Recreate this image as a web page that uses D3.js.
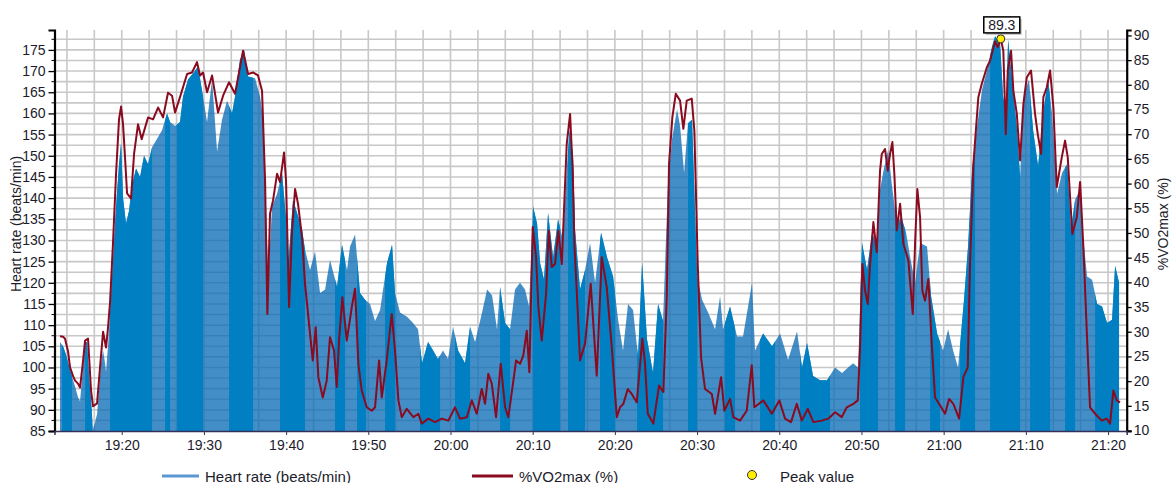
<!DOCTYPE html>
<html>
<head>
<meta charset="utf-8">
<script src="https://d3js.org/d3.v7.min.js"></script>
<style>
  body { margin: 0; background: #fff; }
  text { font-family: "Liberation Sans", Arial, sans-serif; fill: #1c1c2c; }
</style>
</head>
<body>
<div id="chart"></div>
<script>

// readings, time given as minutes after 19:00
var hrMinutes = [
  12.49,12.86,13.22,13.71,14.08,14.32,14.68,14.93,15.29,15.54,
  15.78,16.02,16.27,16.51,16.75,17.00,17.24,17.48,17.73,17.97,
  18.09,18.33,18.58,18.94,19.31,19.67,19.92,20.16,20.52,20.89,
  21.25,21.74,22.23,22.71,23.20,23.69,24.30,24.90,25.51,25.88,
  26.49,27.09,27.46,28.07,28.68,29.28,29.89,30.38,30.99,31.60,
  32.20,32.81,33.42,33.79,34.39,34.88,35.37,36.22,36.83,37.19,
  37.56,37.84,38.29,38.90,39.50,39.99,40.27,40.84,41.45,41.94,
  42.30,42.91,43.52,44.13,44.74,45.34,46.20,46.80,47.41,47.78,
  48.39,48.99,49.60,50.21,50.82,51.43,52.28,52.89,53.25,53.86,
  54.71,55.44,56.05,56.54,57.27,57.88,58.48,59.09,59.70,60.31,
  60.92,61.77,62.38,62.99,63.84,64.45,65.06,65.66,66.03,66.64,
  67.25,67.85,68.46,69.07,69.56,70.04,70.53,70.90,71.38,71.87,
  72.48,73.09,73.69,74.18,74.48,74.91,75.15,75.76,76.37,76.98,
  77.59,78.32,79.05,79.78,80.39,80.99,81.60,82.21,82.82,83.31,
  83.91,84.64,85.25,85.86,86.47,86.96,87.56,87.93,88.42,88.90,
  89.39,90.00,90.61,91.34,92.19,92.80,93.16,94.01,94.86,95.59,
  96.69,97.05,98.03,99.12,100.10,101.07,102.16,102.77,103.38,104.11,
  104.96,105.81,106.79,107.64,108.37,108.98,109.59,110.07,110.68,111.29,
  111.90,112.26,112.63,113.24,113.72,114.33,114.82,115.43,115.91,116.52,
  117.13,117.98,118.47,119.20,119.93,120.54,121.15,121.75,122.48,122.97,
  123.46,124.07,124.67,125.28,125.89,126.26,126.86,127.23,127.59,127.84,
  128.32,128.93,129.30,129.78,130.39,130.88,131.49,132.10,132.70,133.19,
  133.80,134.41,135.02,135.50,135.99,136.60,136.96,137.45,138.06,138.67,
  139.27,139.88,140.49,140.86,141.34
];
var hrValues = [
  106,105,103,99.5,97,95.5,93,92,100,106,
  106,98,92,85.5,87,89,95,101,104,101,
  99,105,113,125,138,148,153,140,134,137,
  143,147,145,150,148,152,154,156,160,158,
  157,158,164,168,169.5,171,164,158,168,151,
  158.5,163,160,164,172.7,175,168.7,168.3,164,159,
  136,121.5,138,141,146,135,124.7,139.6,135.7,132.5,
  127.8,123,127.4,117.6,118.4,125.4,119,129,123,128.6,
  131.4,117.6,116,115,111,113.6,124.7,129,117.6,113,
  112,110.5,109,101,106,104,102,104,102,109.7,
  104,101,109.7,106,113,118.4,117,109,119,110.5,
  109,118.4,120,118.4,114.4,138,134,124.7,120.7,136.5,
  126,135,130,148,156,150,132.5,118.4,123,129.4,
  120,131.8,126,121.5,111.3,104,115,113.6,102.6,124.7,
  106.6,98.7,115,111,144,154,161,157,146,157.7,
  158.5,121.5,116,113,109,116.8,109,114.4,107.3,107.3,
  120,104,108,105,108,101.8,108.5,100,105.8,98,
  97,97,100,98.7,100,101,100,129.4,123,131.8,
  128.6,142,146,151.4,142.8,133.3,135.7,131.8,126.2,120,
  129.4,128.6,116.8,108,104,109,104,100,116,128.6,
  146.7,157,165.6,170.3,175.8,178.2,176.6,164,160,177.4,
  168,156,145,164.8,168,156,147.5,160,168,160,
  141,146,148,132.5,139.6,142,131,121.5,120.7,115,
  114.4,110.5,111.3,124,120
];

var vo2Minutes = [
  12.49,12.86,13.10,13.47,13.71,14.08,14.32,14.68,14.93,15.29,
  15.54,15.90,16.27,16.51,17.00,17.36,17.73,18.09,18.33,18.58,
  18.94,19.31,19.67,19.92,20.16,20.40,20.65,21.13,21.50,21.98,
  22.43,23.20,23.81,24.42,25.03,25.63,26.12,26.49,27.09,27.95,
  28.55,29.16,29.53,29.89,30.38,30.99,31.72,32.33,33.05,33.79,
  34.76,35.37,35.98,36.58,37.07,37.44,37.72,38.04,38.41,38.90,
  39.26,39.75,39.99,40.36,40.72,41.09,41.45,41.94,42.30,42.91,
  43.24,43.60,43.92,44.46,44.94,45.34,45.83,46.16,46.44,46.84,
  47.38,47.99,48.39,48.79,49.20,49.81,50.42,50.82,51.31,51.64,
  52.24,52.85,53.25,53.66,54.07,54.68,55.48,56.09,56.50,57.30,
  58.12,58.93,59.74,60.55,61.16,61.98,62.59,63.19,63.80,64.20,
  64.60,65.02,65.54,66.11,66.64,67.04,67.65,67.98,68.46,68.86,
  69.28,69.59,70.01,70.41,70.69,71.10,71.63,71.95,72.32,72.72,
  73.12,73.54,74.14,74.55,74.87,75.07,75.36,75.76,76.37,77.06,
  77.79,78.40,79.01,79.62,80.23,80.63,81.03,81.57,82.05,82.66,
  83.34,83.67,84.00,84.68,85.37,85.90,86.31,86.59,86.99,87.41,
  87.93,88.33,88.74,89.35,89.67,90.08,90.48,90.97,91.79,92.19,
  92.92,93.32,94.01,94.41,95.23,96.04,96.65,96.97,98.06,99.09,
  100.01,100.70,101.43,102.13,102.74,103.47,104.15,105.17,105.97,106.79,
  107.60,108.21,109.01,109.55,109.83,110.11,110.44,110.77,111.05,111.45,
  111.86,112.26,112.47,112.87,113.20,113.48,113.76,114.00,114.30,114.70,
  115.10,115.71,116.24,116.52,116.80,117.13,117.41,117.74,118.14,118.55,
  118.95,119.56,120.17,120.66,121.18,121.88,122.40,122.93,123.21,123.62,
  124.22,124.64,125.25,125.65,126.26,126.58,126.95,127.26,127.56,127.80,
  128.20,128.48,128.90,129.30,129.70,130.11,130.63,131.12,131.45,131.85,
  132.13,132.55,132.95,133.35,133.76,134.37,134.77,135.10,135.38,135.66,
  136.20,136.60,137.00,137.41,137.81,138.42,139.24,139.84,140.25,140.65,
  141.06,141.46
];
var vo2Values = [
  29.1,29,28.6,26,22.8,21,20.1,19.5,18.7,24,
  28.2,28.6,18,14.9,15.5,22.8,30,26.8,30.8,36,
  48,62,73,75.6,72,65.3,58,57,66,72,
  69,73.4,73,75.4,73.4,78.4,77.8,74.4,77.5,82.2,
  82.5,84.6,81.9,82.5,78.5,81.9,74.4,77.8,80.5,78.2,
  86.9,82.2,82.5,81.9,78.8,60.6,33.6,53.9,56.6,62,
  60.3,66.3,60.6,35,50.5,58.9,55.9,49.1,39.7,29.6,
  24.2,30.9,20.8,16.7,20.1,28.9,26.2,18.8,28.2,37,
  28.2,35,38.7,23.5,18.1,14.7,14,14.7,24.2,16.7,
  24.2,33.6,26.2,16.1,12.7,14.4,12.7,13.4,11.4,12.4,
  11.7,12.4,12,14.7,12.4,12.7,16.1,13.4,18.4,15.4,
  21.5,19.5,12.7,23.5,14.7,12.7,20.1,24.2,23.5,25.2,
  30.2,21.8,51.2,45.1,35,28.2,37.7,50.5,43.1,43.7,
  50.5,43.7,68,74.1,62.6,47.8,38.3,24.2,27.6,39.7,
  21.1,45.1,39,26.9,12.7,14.7,15.4,18.4,17.4,15.7,
  28.6,23.5,13.4,11.4,19.1,17.8,37,64,73.4,78.2,
  76.8,71.1,76.8,77.2,70.7,43.7,24.8,18.4,17.4,13.4,
  20.8,14,16.4,12.7,12,14,23.2,14.7,16.1,13.4,
  16.1,12.4,11.7,15.4,12,14.4,11.7,12,12.4,13.7,
  12.7,14.7,15.4,16.1,26.9,43.7,38.3,35.6,43.7,52.2,
  46.1,62.6,66,67,62.6,66,68.4,62,50.5,55.9,
  47.8,44.4,33.6,47.8,58.9,53.2,38.3,36.3,40.7,27.6,
  16.7,15.1,13.4,16.4,15.4,12.4,20.8,22.8,43.7,64,
  77.5,80.2,83.5,84.9,88.8,87.6,89.3,86.9,70,82.9,
  86.9,78.8,74.1,64.7,76.1,81.5,82.9,74.1,70,66,
  77.5,79.5,82.9,75.4,59.3,65.3,68.7,65.3,57.2,49.8,
  53.2,60.3,47.1,30.2,14.7,13.4,12,12.4,11.4,18.1,
  16.1,15.7
];

// stretches where the recording is dense (drawn solid)
var denseSpans = [
  [12.74,13.95],[15.54,16.39],[18.58,23.69],[25.27,25.88],[26.73,29.89],
  [33.06,35.98],[39.26,42.30],[45.95,47.17],[48.63,49.73],[52.04,53.25],
  [56.29,58.73],[60.55,62.38],[66.03,67.25],[70.04,73.33],[74.30,76.37],
  [78.19,80.02],[82.70,85.86],[88.90,90.00],[93.40,94.62],[97.66,99.49],
  [102.53,106.18],[109.83,112.02],[114.09,115.31],[118.35,119.56],[122.00,123.82],
  [125.65,129.30],[130.51,132.95],[134.77,135.99],[138.42,141.46]
];

var peakMinute = 126.95;
var peakValue = 89.3;

var hrTicks = [85,90,95,100,105,110,115,120,125,130,135,140,145,150,155,160,165,170,175];
var vo2Ticks = [10,15,20,25,30,35,40,45,50,55,60,65,70,75,80,85,90];
var timeTicks = ["19:20","19:30","19:40","19:50","20:00","20:10","20:20","20:30","20:40","20:50","21:00","21:10","21:20"];

// helpers
var base = new Date(2021, 0, 1, 19, 0, 0);
function atMinute(m) { return new Date(base.getTime() + m * 60000); }
var parseClock = d3.timeParse("%H:%M");
function clock(s) { var d = parseClock(s); return new Date(2021, 0, 1, d.getHours(), d.getMinutes()); }

var hrData = hrMinutes.map(function(m, i) { return {t: atMinute(m), v: hrValues[i]}; });
var vo2Data = vo2Minutes.map(function(m, i) { return {t: atMinute(m), v: vo2Values[i]}; });

// dimensions
var margin = {top: 30, right: 45.3, bottom: 52, left: 54.5},
    width = 1172 - margin.left - margin.right,
    height = 483 - margin.top - margin.bottom;

var svg = d3.select("#chart")
  .append("svg")
    .attr("width", 1172)
    .attr("height", 483);

var g = svg.append("g")
    .attr("transform", "translate(" + margin.left + "," + margin.top + ")");

var x = d3.scaleTime()
    .domain([atMinute(11.82), atMinute(142.27)])
    .range([0, width]);

var yL = d3.scaleLinear().domain([85, 179.7]).range([height, 0]);
var yR = d3.scaleLinear().domain([9.9, 91.1]).range([height, 0]);

// grid
var grid = g.append("g").attr("stroke", "#c8c8c8").attr("stroke-width", 1.6);
grid.selectAll("line.h")
  .data(d3.range(87.5, 179.7, 2.5))
  .enter().append("line")
    .attr("x1", 0).attr("x2", width)
    .attr("y1", function(d) { return yL(d); })
    .attr("y2", function(d) { return yL(d); });
grid.selectAll("line.v")
  .data(d3.range(40 / 3, 142, 10 / 3))
  .enter().append("line")
    .attr("x1", function(d) { return x(atMinute(d)); })
    .attr("x2", function(d) { return x(atMinute(d)); })
    .attr("y1", 0).attr("y2", height);

// heart rate area
var area = d3.area()
    .x(function(d) { return x(d.t); })
    .y0(height)
    .y1(function(d) { return yL(d.v); });

g.append("path")
    .datum(hrData)
    .attr("d", area)
    .attr("fill", "#0a6cb5")
    .attr("fill-opacity", 0.77);

svg.append("clipPath")
    .attr("id", "dense")
  .selectAll("rect")
  .data(denseSpans)
  .enter().append("rect")
    .attr("x", function(d) { return x(atMinute(d[0])); })
    .attr("width", function(d) { return x(atMinute(d[1])) - x(atMinute(d[0])); })
    .attr("y", 0)
    .attr("height", height);

g.append("path")
    .datum(hrData)
    .attr("d", area)
    .attr("fill", "#0080c2")
    .attr("clip-path", "url(#dense)");

// %VO2max line
var line = d3.line()
    .x(function(d) { return x(d.t); })
    .y(function(d) { return yR(d.v); });

g.append("path")
    .datum(vo2Data)
    .attr("d", line)
    .attr("fill", "none")
    .attr("stroke", "#8a0a1f")
    .attr("stroke-width", 2)
    .attr("stroke-linejoin", "round");

// axes
var leftAxis = g.append("g")
    .call(d3.axisLeft(yL).tickValues(hrTicks).tickSize(6).tickPadding(3));
leftAxis.selectAll(".tick text").style("font-size", "14px");
g.append("g").selectAll("line")
  .data(d3.range(87.5, 178, 5))
  .enter().append("line")
    .attr("x1", -3).attr("x2", 0)
    .attr("y1", function(d) { return yL(d); })
    .attr("y2", function(d) { return yL(d); })
    .attr("stroke", "#000");

var rightAxis = g.append("g")
    .attr("transform", "translate(" + width + ",0)")
    .call(d3.axisRight(yR).tickValues(vo2Ticks).tickSize(5).tickPadding(2));
rightAxis.selectAll(".tick text").style("font-size", "14px");

[leftAxis, rightAxis].forEach(function(a) {
  a.select(".domain").attr("stroke", "#000").attr("stroke-width", 2.2);
  a.selectAll(".tick line").attr("stroke", "#000").attr("stroke-width", 1.3);
});

var bottomAxis = g.append("g")
    .attr("transform", "translate(0," + height + ")")
    .call(d3.axisBottom(x)
      .tickValues(timeTicks.map(clock))
      .tickFormat(d3.timeFormat("%H:%M"))
      .tickSize(4).tickPadding(5));
bottomAxis.select(".domain").attr("stroke", "#35305a").attr("stroke-width", 1.5);
bottomAxis.selectAll(".tick line").attr("stroke", "#35305a");
bottomAxis.selectAll(".tick text").style("font-size", "14px");

// axis titles
svg.append("text")
    .attr("transform", "translate(21,224) rotate(-90)")
    .attr("text-anchor", "middle")
    .style("font-size", "14px")
    .text("Heart rate (beats/min)");

svg.append("text")
    .attr("transform", "translate(1168,224) rotate(-90)")
    .attr("text-anchor", "middle")
    .style("font-size", "14px")
    .text("%VO2max (%)");

// peak marker and label
var px = x(atMinute(peakMinute)), py = yR(peakValue);
g.append("rect")
    .attr("x", px - 15).attr("y", py - 20)
    .attr("width", 36).attr("height", 16)
    .attr("fill", "#999").attr("opacity", 0.6);
g.append("rect")
    .attr("x", px - 17).attr("y", py - 22)
    .attr("width", 36).attr("height", 16)
    .attr("fill", "#fff").attr("stroke", "#000").attr("stroke-width", 1.5);
g.append("text")
    .attr("x", px + 1).attr("y", py - 9)
    .attr("text-anchor", "middle")
    .style("font-size", "14px")
    .text(peakValue);
g.append("circle")
    .attr("cx", px).attr("cy", py).attr("r", 4)
    .attr("fill", "#ffee00").attr("stroke", "#333").attr("stroke-width", 1);

// legend
var legend = svg.append("g").attr("transform", "translate(0,476)");
legend.append("line").attr("x1", 162).attr("x2", 199)
    .attr("stroke", "#5b97d2").attr("stroke-width", 3);
legend.append("text").attr("x", 205).attr("y", 5.5).style("font-size", "15px")
    .text("Heart rate (beats/min)");
legend.append("line").attr("x1", 472).attr("x2", 513)
    .attr("stroke", "#8a0a1f").attr("stroke-width", 3);
legend.append("text").attr("x", 519).attr("y", 5.5).style("font-size", "15px")
    .text("%VO2max (%)");
legend.append("circle").attr("cx", 752).attr("cy", -1).attr("r", 4.5)
    .attr("fill", "#ffee00").attr("stroke", "#333").attr("stroke-width", 1);
legend.append("text").attr("x", 780).attr("y", 5.5).style("font-size", "15px")
    .text("Peak value");

</script>
</body>
</html>
